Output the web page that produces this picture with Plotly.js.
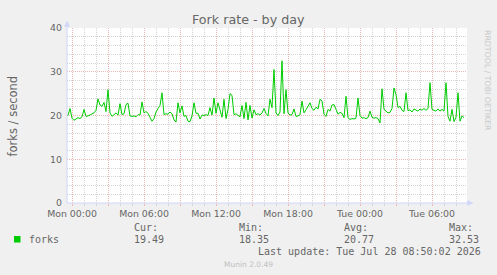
<!DOCTYPE html>
<html><head><meta charset="utf-8">
<script src="https://cdn.plot.ly/plotly-3.0.1.min.js"></script>
<style>html,body{margin:0;padding:0;background:#f0f0f0;}#chart{width:497px;height:275px;}</style>
</head><body><div id="chart"></div>
<script>
// ---- data ----
const seriesName = 'forks';
const startTime = [2026, 6, 26, 23, 30]; // first sample: Sun 2026-07-26 23:30
const stepMinutes = 10;
const forks = [
 20.2,20.0,21.6,19.4,18.9,19.3,19.5,19.3,19.7,21.4,
 19.8,19.9,20.1,20.3,20.6,21.2,23.8,22.4,22.1,23.0,
 20.9,25.9,20.6,19.8,20.3,20.6,20.1,22.7,20.2,20.4,
 22.5,22.8,19.9,19.8,19.9,19.7,20.2,20.1,23.1,20.6,
 20.9,20.5,19.6,18.7,19.3,20.8,21.6,22.3,25.2,20.2,
 20.4,20.3,20.8,20.4,19.0,18.5,22.9,20.6,22.2,19.8,
 20.0,18.7,18.6,19.9,22.9,20.5,20.5,19.2,20.1,20.0,
 20.2,20.0,21.8,20.1,24.0,20.5,22.9,21.4,19.6,23.7,
 19.3,21.4,25.0,24.6,20.2,20.4,20.1,19.7,22.3,19.3,
 23.0,19.0,22.3,19.4,21.3,20.2,20.4,20.1,20.6,21.6,
 20.5,19.9,23.7,21.8,30.5,20.6,20.0,20.8,32.5,20.4,
 25.9,20.6,20.1,20.2,21.5,19.8,19.9,20.2,23.3,20.6,
 21.3,22.0,22.9,21.6,21.2,21.9,21.5,23.7,23.3,20.3,
 19.8,21.4,21.0,22.4,22.5,21.4,20.3,20.7,20.5,19.5,
 24.4,19.5,19.1,19.3,19.2,19.4,24.0,20.0,19.4,19.5,
 19.3,19.5,21.0,19.6,19.4,19.5,19.3,18.3,26.1,21.4,
 21.0,20.6,20.7,21.6,26.3,24.8,21.8,22.1,21.2,20.9,
 25.2,21.1,21.3,20.8,21.5,21.2,21.0,21.5,21.2,21.6,
 21.2,21.6,27.5,21.4,21.1,21.0,21.5,21.0,21.4,21.0,
 27.5,19.8,18.7,21.4,18.6,19.6,25.2,18.7,19.9,19.5
];
const xRange = ['2026-07-26 23:35', '2026-07-28 08:55'];
const xTickVals = ['2026-07-27 00:00','2026-07-27 03:00','2026-07-27 06:00','2026-07-27 09:00',
  '2026-07-27 12:00','2026-07-27 15:00','2026-07-27 18:00','2026-07-27 21:00',
  '2026-07-28 00:00','2026-07-28 03:00','2026-07-28 06:00'];
const xTickText = ['Mon 00:00','','Mon 06:00','','Mon 12:00','','Mon 18:00','','Tue 00:00','','Tue 06:00'];
const yTickVals = [0, 10, 20, 30, 40];
const statLabels = ['Cur:', 'Min:', 'Avg:', 'Max:'];
const statValues = ['19.49', '18.35', '20.77', '32.53'];
const titleText = 'Fork rate - by day';
const yTitleText = 'forks / second';
const lastUpdate = 'Last update: Tue Jul 28 08:50:02 2026';
const footerText = 'Munin 2.0.49';
const sideText = 'RRDTOOL / TOBI OETIKER';

// ---- build ----
function fmt(d) { return d.toISOString().slice(0, 19).replace('T', ' '); }
const t0 = Date.UTC.apply(null, startTime);
const times = forks.map((_, i) => fmt(new Date(t0 + i * stepMinutes * 60000)));

const L = 67, T = 28, W = 400, H = 175;
const px = x => (x - L) / W;
const py = y => (T + H - y) / H;

const FONT = 'DejaVu Sans, sans-serif';
const MONO = 'DejaVu Sans Mono, monospace';
const TXT = '#666666';
const AXIS = '#CFD6F8';
const MGRID = '#efb8b8';
const GRID = '#d4d4d4';

const trace = {
  type: 'scatter', mode: 'lines', x: times, y: forks, name: seriesName,
  line: {color: '#00CC00', width: 1}, hoverinfo: 'skip', showlegend: false
};

const shapes = [
  {type: 'line', xref: 'paper', yref: 'paper', x0: px(67), x1: px(468), y0: 0, y1: 0, line: {color: AXIS, width: 1}},
  {type: 'line', xref: 'paper', yref: 'paper', x0: 0, x1: 0, y0: 0, y1: py(25), line: {color: AXIS, width: 1}},
  {type: 'path', xref: 'paper', yref: 'paper', path: `M ${px(467.5)} ${py(200.5)} L ${px(473)} ${py(203)} L ${px(467.5)} ${py(205.5)} Z`, fillcolor: AXIS, line: {color: AXIS, width: 0.5}},
  {type: 'path', xref: 'paper', yref: 'paper', path: `M ${px(64.5)} ${py(26.5)} L ${px(67)} ${py(21)} L ${px(69.5)} ${py(26.5)} Z`, fillcolor: AXIS, line: {color: AXIS, width: 0.5}},
  {type: 'rect', xref: 'paper', yref: 'paper', x0: px(14), x1: px(20.5), y0: py(242.5), y1: py(236), fillcolor: '#00CC00', line: {width: 0}}
];

const annotations = [
  {text: titleText, xref: 'paper', yref: 'paper', x: px(248.5), y: py(19.5), xanchor: 'center', yanchor: 'middle', showarrow: false, font: {family: FONT, size: 12.7, color: TXT}},
  {text: yTitleText, xref: 'paper', yref: 'paper', x: px(12), y: py(115.5), xanchor: 'center', yanchor: 'middle', textangle: -90, showarrow: false, font: {family: FONT, size: 11.5, color: TXT}},
  {text: sideText, xref: 'paper', yref: 'paper', x: px(487.5), y: py(28), xanchor: 'center', yanchor: 'top', textangle: 90, showarrow: false, font: {family: FONT, size: 7.8, color: '#c8c8c8'}},
  {text: seriesName, xref: 'paper', yref: 'paper', x: px(26.5), y: py(239.5), xanchor: 'left', yanchor: 'middle', showarrow: false, font: {family: MONO, size: 10, color: TXT}},
  {text: lastUpdate, xref: 'paper', yref: 'paper', x: px(483), y: py(251.2), xanchor: 'right', yanchor: 'middle', showarrow: false, font: {family: MONO, size: 10, color: TXT}},
  {text: footerText, xref: 'paper', yref: 'paper', x: px(248.5), y: py(264.5), xanchor: 'center', yanchor: 'middle', showarrow: false, font: {family: FONT, size: 7.5, color: '#c0c0c0'}}
];
const statX = [131.5, 236.7, 342.3, 446.7];
statLabels.forEach((s, i) => {
  annotations.push({text: s, xref: 'paper', yref: 'paper', x: px(statX[i]), y: py(227.8), xanchor: 'left', yanchor: 'middle', showarrow: false, font: {family: MONO, size: 10, color: TXT}});
  annotations.push({text: statValues[i], xref: 'paper', yref: 'paper', x: px(statX[i]), y: py(239.5), xanchor: 'left', yanchor: 'middle', showarrow: false, font: {family: MONO, size: 10, color: TXT}});
});

const layout = {
  width: 497, height: 275,
  margin: {l: L, r: 497 - L - W, t: T, b: 275 - T - H, pad: 0},
  paper_bgcolor: '#F0F0F0', plot_bgcolor: '#FFFFFF',
  showlegend: false,
  xaxis: {
    type: 'date', range: xRange, tickmode: 'array', tickvals: xTickVals, ticktext: xTickText,
    showgrid: true, gridcolor: MGRID, griddash: '1px,1px', gridwidth: 1,
    ticks: 'outside', ticklen: 2, tickcolor: MGRID, showline: false, zeroline: false,
    tickfont: {family: FONT, size: 9.4, color: TXT}, ticklabelstandoff: 0,
    minor: {dtick: 3600000, tick0: '2026-07-27 00:00', showgrid: true, gridcolor: GRID, griddash: '1px,1px', ticks: 'outside', ticklen: 2, tickcolor: GRID}
  },
  yaxis: {
    range: [0, 40], tickmode: 'array', tickvals: yTickVals,
    showgrid: true, gridcolor: MGRID, griddash: '1px,1px', gridwidth: 1,
    ticks: '', showline: false, zeroline: false,
    tickfont: {family: FONT, size: 9.4, color: TXT}, ticklabelstandoff: 4,
    minor: {dtick: 2, showgrid: true, gridcolor: GRID, griddash: '1px,1px'}
  },
  shapes: shapes,
  annotations: annotations
};

Plotly.newPlot('chart', [trace], layout, {displayModeBar: false, staticPlot: true});
</script>
</body></html>
